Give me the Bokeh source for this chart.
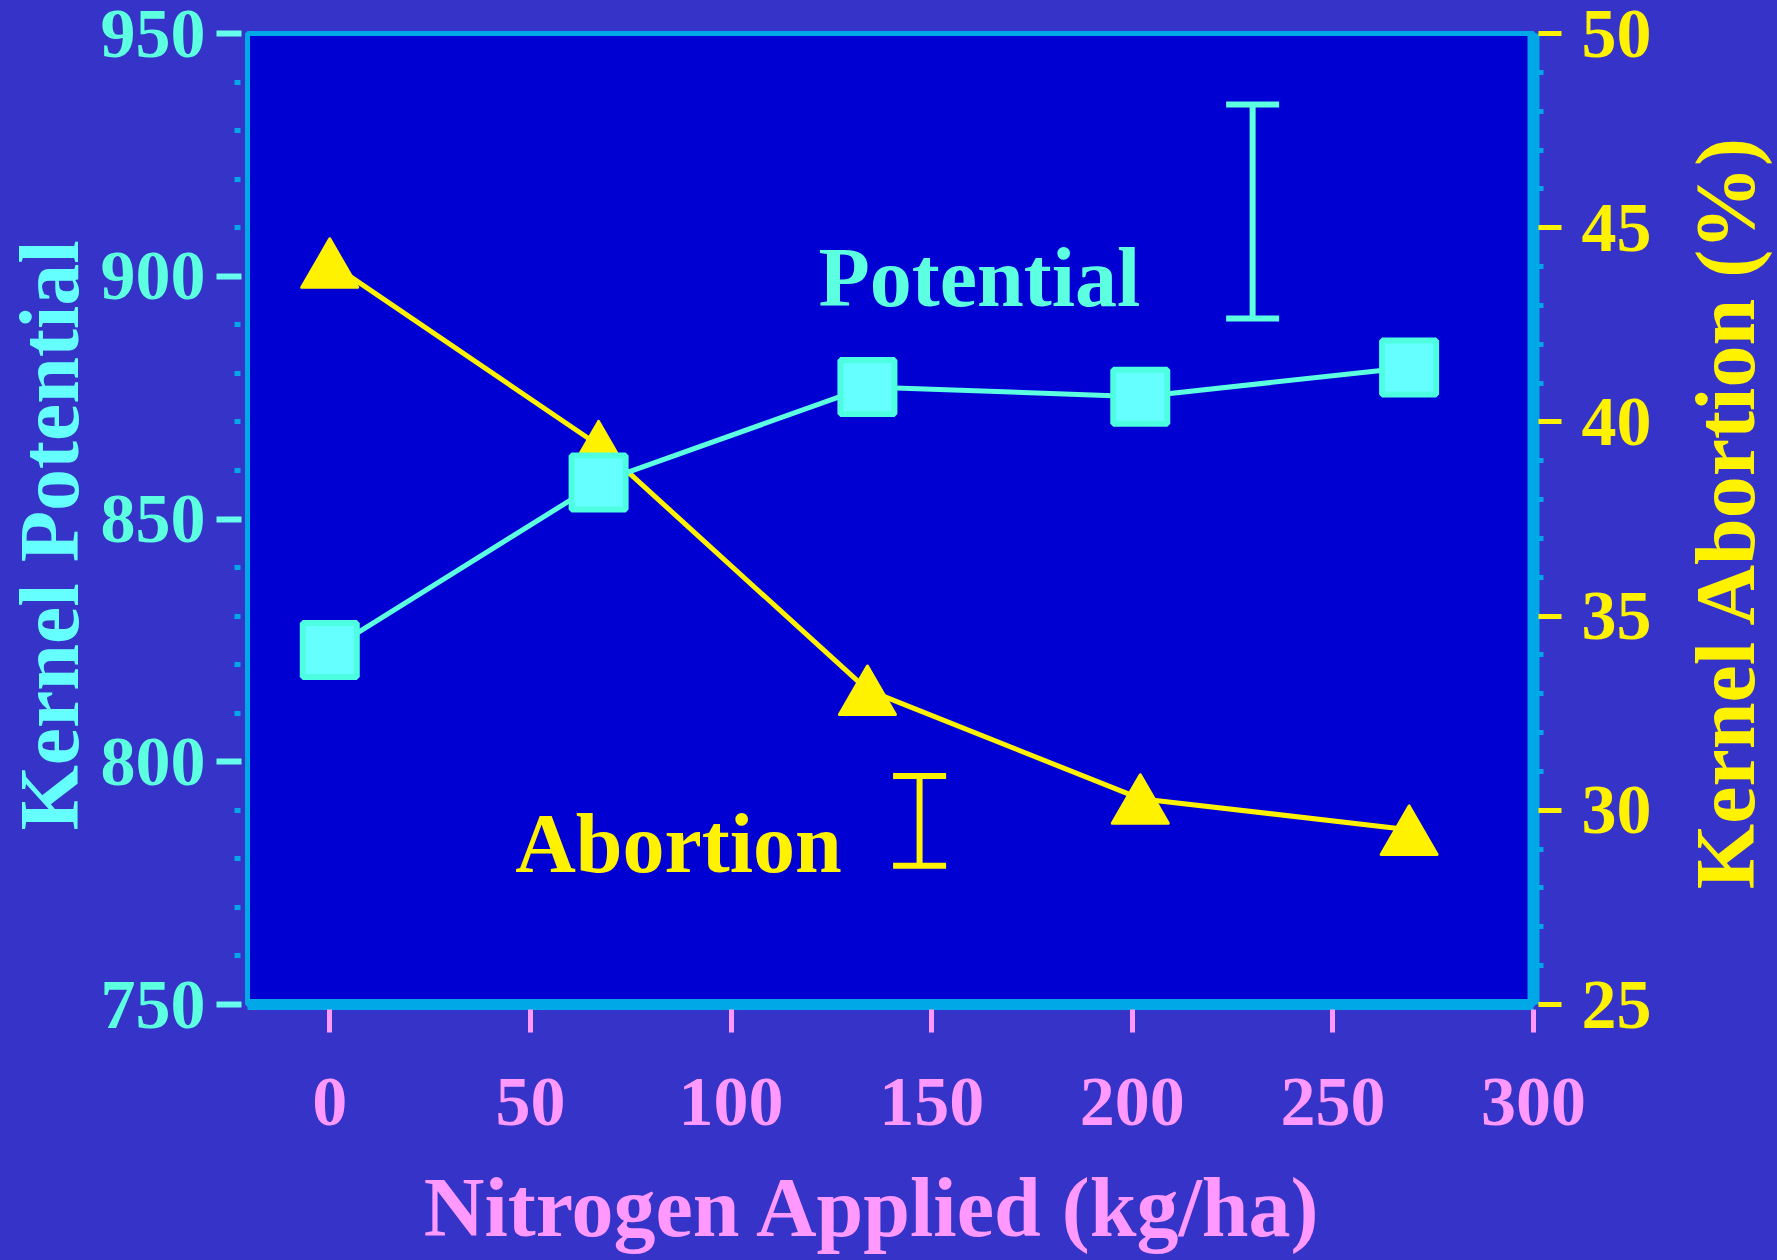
from bokeh.plotting import figure
from bokeh.models import (Range1d, LinearAxis, FixedTicker, ColumnDataSource, Whisker,
                          TeeHead, GlobalInlineStyleSheet, Label)
from bokeh.core.properties import value
from bokeh.embed import file_html
from bokeh.resources import INLINE

# ---- data ----
nitrogen = [0, 67, 134, 202, 269]
potential = [823.0, 857.5, 877.2, 875.2, 881.2]
abortion = [44.1, 39.4, 33.1, 30.3, 29.5]

pot_err_x = [230]
pot_err_lo = [891.3]
pot_err_hi = [935.4]
abo_err_x = [147]
abo_err_lo = [28.57]
abo_err_hi = [30.88]

x_ticks = [0, 50, 100, 150, 200, 250, 300]
left_ticks = [750, 800, 850, 900, 950]
left_minor = [760, 770, 780, 790, 810, 820, 830, 840, 860, 870, 880, 890, 910, 920, 930, 940]
right_ticks = [25, 30, 35, 40, 45, 50]
right_minor = [26, 27, 28, 29, 31, 32, 33, 34, 36, 37, 38, 39, 41, 42, 43, 44, 46, 47, 48, 49]

pot_label = ["Potential"]
abo_label = ["Abortion"]
x_title = "Nitrogen Applied (kg/ha)"
left_title = "Kernel Potential"
right_title = "Kernel Abortion (%)"

# ---- style ----
FONT = "Liberation Serif"
BG_OUT = "#3634C8"
BG_IN = "#0000D2"
FRAME = "#00A8E8"
CYAN = "#5CFFE0"
CYAN2 = "#66FFFF"
YELLOW = "#FFF200"
PINK = "#FF99FF"

p = figure(width=1777, height=1260, output_backend="svg", toolbar_location=None,
           x_range=Range1d(-20.5, 300), y_range=Range1d(750, 950),
           background_fill_color=BG_IN, border_fill_color=BG_OUT,
           min_border_left=247, min_border_top=33, min_border_right=244, min_border_bottom=256,
           x_axis_location="below", y_axis_location="left")
p.stylesheets = [GlobalInlineStyleSheet(css="html, body { background: %s; }" % BG_OUT)]
# marker range: same scale as "ab", shifted so triangles sit centred on their points
p.extra_y_ranges = {"ab": Range1d(25, 50), "ab_marker": Range1d(25.22, 50.22)}
p.grid.visible = False
p.outline_line_color = FRAME
p.outline_line_width = 5
p.outline_line_alpha = 1.0


def style_labels(ax, size, color, standoff):
    ax.major_label_text_font = FONT
    ax.major_label_text_font_style = "bold"
    ax.major_label_text_font_size = size
    ax.major_label_text_color = color
    ax.major_label_standoff = standoff


def title_axis(ax, pos, text, orientation, color, standoff):
    ax.ticker = FixedTicker(ticks=[pos])
    ax.major_label_overrides = {pos: text}
    ax.major_label_orientation = orientation
    ax.axis_line_color = None
    ax.major_tick_line_color = None
    ax.minor_tick_line_color = None
    ax.major_tick_out = 0
    ax.major_tick_in = 0
    ax.minor_tick_out = 0
    ax.minor_tick_in = 0
    style_labels(ax, "84px", color, standoff)


# bottom axis
xa = p.xaxis[0]
xa.ticker = FixedTicker(ticks=x_ticks)
xa.axis_line_color = FRAME
xa.axis_line_width = 11
xa.major_tick_line_color = PINK
xa.major_tick_line_width = 5
xa.major_tick_in = -5
xa.major_tick_out = 28
xa.minor_tick_line_color = None
style_labels(xa, "70px", PINK, 46)

# left axis
ya = p.yaxis[0]
ya.ticker = FixedTicker(ticks=left_ticks, minor_ticks=left_minor)
ya.axis_line_color = None
ya.major_tick_line_color = "#66FFEE"
ya.major_tick_line_width = 6
ya.major_tick_in = -6
ya.major_tick_out = 31
ya.minor_tick_line_color = FRAME
ya.minor_tick_line_width = 5
ya.minor_tick_in = -7
ya.minor_tick_out = 13
style_labels(ya, "70px", CYAN, 11)

# right axis
ra = LinearAxis(y_range_name="ab")
ra.ticker = FixedTicker(ticks=right_ticks, minor_ticks=right_minor)
ra.axis_line_color = FRAME
ra.axis_line_width = 12
ra.major_tick_line_color = YELLOW
ra.major_tick_line_width = 5
ra.major_tick_in = -5
ra.major_tick_out = 28
ra.minor_tick_line_color = FRAME
ra.minor_tick_line_width = 5
ra.minor_tick_in = 0
ra.minor_tick_out = 10
style_labels(ra, "70px", YELLOW, 20)
p.add_layout(ra, "right")

# axis titles
bt = LinearAxis()
title_axis(bt, 135.5, x_title, "horizontal", PINK, 33)
p.add_layout(bt, "below")

lt = LinearAxis()
title_axis(lt, 846.6, left_title, "vertical", CYAN2, 1)
p.add_layout(lt, "left")

rlab = Label(x=347.8, y=851.6, text=right_title, angle=90, angle_units="deg",
             text_font=FONT, text_font_style="bold", text_font_size="84px",
             text_color=YELLOW, text_align="center", text_baseline="alphabetic")
p.add_layout(rlab, "right")

# abortion series
p.line(nitrogen, abortion, y_range_name="ab", line_color=YELLOW, line_width=5)
p.scatter(nitrogen, abortion, y_range_name="ab_marker", marker="triangle", size=56,
          fill_color=YELLOW, line_color=YELLOW, line_width=3, line_join="round")

# potential series
p.line(nitrogen, potential, line_color=CYAN, line_width=5)
p.scatter(nitrogen, potential, marker="square", size=54,
          fill_color="#66FFFF", line_color="#4DFFE0", line_width=6)

# error bars
src_p = ColumnDataSource(dict(x=pot_err_x, lo=pot_err_lo, hi=pot_err_hi))
p.add_layout(Whisker(base="x", lower="lo", upper="hi", source=src_p, dimension="height",
                     line_color=CYAN, line_width=6,
                     upper_head=TeeHead(size=53, line_color=CYAN, line_width=6),
                     lower_head=TeeHead(size=53, line_color=CYAN, line_width=6)))
src_a = ColumnDataSource(dict(x=abo_err_x, lo=abo_err_lo, hi=abo_err_hi))
p.add_layout(Whisker(base="x", lower="lo", upper="hi", source=src_a, dimension="height",
                     y_range_name="ab",
                     line_color=YELLOW, line_width=6,
                     upper_head=TeeHead(size=53, line_color=YELLOW, line_width=6),
                     lower_head=TeeHead(size=53, line_color=YELLOW, line_width=6)))

# in-plot labels
p.text(x=[121.8], y=[899.7], text=pot_label, text_font=value(FONT), text_font_style="bold",
       text_font_size="84px", text_color=CYAN, text_align="left", text_baseline="alphabetic")
p.text(x=[46.2], y=[783.1], text=abo_label, text_font=value(FONT), text_font_style="bold",
       text_font_size="84px", text_color=YELLOW, text_align="left", text_baseline="alphabetic")

open("out.html", "w").write(file_html(p, INLINE))
